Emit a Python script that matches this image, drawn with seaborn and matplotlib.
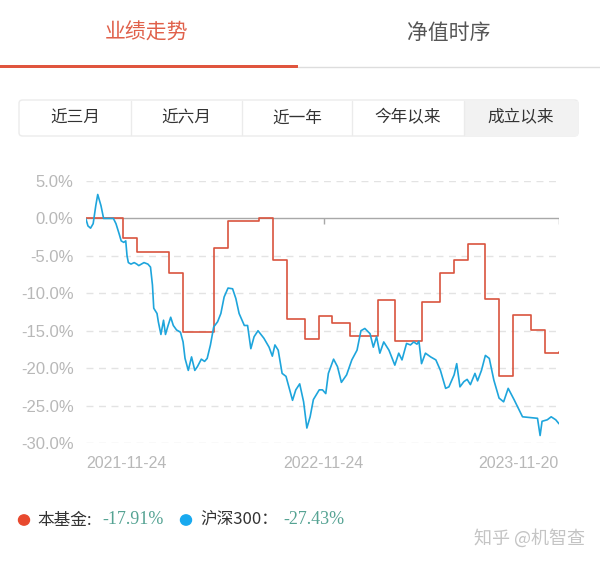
import numpy as np
import pandas as pd
import matplotlib
matplotlib.use("Agg")
import matplotlib.pyplot as plt
import seaborn as sns
from matplotlib.patches import Rectangle, FancyBboxPatch, Circle
from matplotlib.lines import Line2D

# ---------------- data ----------------
start_date = "2021-11-24"
end_date = "2023-11-20"
tick_labels = ["2021-11-24", "2022-11-24", "2023-11-20"]
y_ticks = [5, 0, -5, -10, -15, -20, -25, -30]

# fund (本基金) step changes: day offset since start, cumulative return %
fund_days = [0, 57, 78, 127, 149, 196, 218, 266, 287, 309, 336, 358, 378, 405,
             448, 474, 516, 543, 565, 586, 612, 634, 655, 683, 704, 726]
fund_vals = [0.0, -2.6, -4.5, -7.3, -15.2, -3.9, -0.4, 0.1, -5.6, -13.5, -16.1,
             -13.1, -14.0, -15.7, -10.9, -16.4, -11.2, -7.3, -5.5, -3.4, -10.7,
             -21.0, -12.9, -14.9, -18.0, -17.91]

# CSI 300 (沪深300)
idx_days = [0, 3, 7, 11, 15, 18, 23, 27, 35, 42, 46, 51, 54, 58, 61, 63, 65, 69,
            74, 78, 81, 85, 89, 95, 99, 102, 104, 109, 111, 115, 119, 122, 126,
            130, 134, 139, 145, 149, 152, 157, 162, 167, 171, 177, 182, 186, 191,
            196, 202, 207, 212, 218, 225, 230, 235, 243, 248, 253, 258, 264, 273,
            281, 286, 290, 295, 301, 307, 312, 317, 322, 328, 334, 339, 344, 349,
            358, 363, 368, 372, 380, 386, 392, 400, 408, 416, 422, 428, 436, 441,
            446, 451, 457, 465, 474, 480, 485, 492, 498, 503, 508, 511, 515, 521,
            529, 537, 544, 552, 557, 565, 569, 574, 580, 585, 590, 597, 601, 607,
            613, 619, 626, 634, 641, 648, 657, 665, 670, 693, 697, 700, 708, 714,
            721, 726]
idx_vals = [-0.1, -1.0, -1.3, -0.7, 1.7, 3.2, 1.7, 0.0, 0.0, 0.0, -0.7, -2.1,
            -3.0, -3.2, -3.0, -5.0, -5.9, -6.1, -5.9, -6.1, -6.3, -6.1, -5.9,
            -6.1, -6.5, -8.9, -12.0, -12.7, -13.8, -15.5, -13.6, -15.5, -14.3,
            -13.2, -14.3, -14.9, -15.2, -16.5, -18.7, -20.3, -18.5, -20.3, -19.8,
            -18.8, -19.1, -18.7, -16.9, -14.5, -13.8, -12.7, -10.5, -9.3, -9.4,
            -10.7, -12.7, -14.3, -14.3, -17.4, -15.8, -15.0, -16.0, -17.2, -18.4,
            -16.9, -17.6, -20.7, -21.1, -22.7, -24.3, -22.9, -22.1, -24.5, -28.0,
            -26.5, -24.2, -22.9, -22.9, -23.4, -20.7, -18.8, -19.8, -21.9, -20.9,
            -18.9, -17.6, -15.0, -14.7, -15.4, -17.2, -15.8, -18.0, -16.5, -17.6,
            -19.6, -18.0, -18.9, -16.7, -16.9, -16.5, -16.8, -16.4, -19.4, -18.0,
            -18.5, -18.9, -20.3, -22.7, -22.5, -20.9, -19.4, -22.5, -21.8, -21.5,
            -22.2, -20.7, -21.7, -20.3, -18.3, -18.7, -21.6, -24.0, -24.5, -22.7,
            -24.2, -25.6, -26.5, -26.7, -29.0, -27.1, -26.9, -26.5, -26.9, -27.43]

fund_name = "本基金"
idx_name = "沪深300"
fund_final = "-17.91%"
idx_final = "-27.43%"
tabs = ["业绩走势", "净值时序"]
periods = ["近三月", "近六月", "近一年", "今年以来", "成立以来"]
watermark = "知乎 @机智查"

# ---------------- style ----------------
sns.set_theme(style="white")
plt.rcParams["font.family"] = ["Liberation Sans", "Noto Sans CJK SC", "DejaVu Sans"]
CJK = ["Noto Sans CJK SC", "DejaVu Sans"]
SERIF = ["Liberation Serif", "DejaVu Serif"]

RED = "#d9543e"
BLUE = "#1ea5dc"
GRAY_TXT = "#b8b8b8"

W, H = 600, 562
fig = plt.figure(figsize=(W / 100, H / 100), dpi=100)
fig.patch.set_facecolor("white")

def fx(x):
    return x / W

def fy(y):
    return 1 - y / H

# header tabs
fig.text(fx(147), fy(33), tabs[0], color="#e0604a", fontsize=15, ha="center",
         va="center", family=CJK)
fig.text(fx(449), fy(33), tabs[1], color="#555555", fontsize=15, ha="center",
         va="center", family=CJK)
fig.add_artist(Rectangle((0, fy(68)), fx(298), 3.4 / H, transform=fig.transFigure,
                         color="#e0553e", lw=0))
fig.add_artist(Line2D([fx(298), 1], [fy(67), fy(67)], transform=fig.transFigure,
                      color="#dddddd", lw=1))

# period button group
bx0, bx1, by0, by1 = 19, 578, 100, 136
fig.add_artist(FancyBboxPatch((fx(bx0), fy(by1)), fx(bx1 - bx0), (by1 - by0) / H,
                              boxstyle="round,pad=0,rounding_size=0.006",
                              transform=fig.transFigure, facecolor="white",
                              edgecolor="#ebebeb", lw=1))
bounds = [19, 131, 242, 352, 464, 578]
fig.add_artist(Rectangle((fx(bounds[4]), fy(by1 - 0.5)), fx(bounds[5] - bounds[4] - 0.5),
                         (by1 - by0 - 1) / H, transform=fig.transFigure,
                         facecolor="#f2f2f2", lw=0))
for b in bounds[1:-1]:
    fig.add_artist(Line2D([fx(b), fx(b)], [fy(by0 + 1), fy(by1 - 1)],
                          transform=fig.transFigure, color="#ebebeb", lw=1))
for i, p in enumerate(periods):
    cx = (bounds[i] + bounds[i + 1]) / 2
    fig.text(fx(cx), fy(118), p, color="#333333", fontsize=12, ha="center",
             va="center", family=CJK)

# ---------------- chart ----------------
ax = fig.add_axes([fx(86), fy(443), fx(559 - 86), (443 - 181) / H])
t0 = pd.Timestamp(start_date)
t1 = pd.Timestamp(end_date)
fund_df = pd.DataFrame({"date": t0 + pd.to_timedelta(fund_days, unit="D"),
                        "value": fund_vals})
idx_df = pd.DataFrame({"date": t0 + pd.to_timedelta(idx_days, unit="D"),
                       "value": idx_vals})

for y in y_ticks:
    if y != 0:
        ax.axhline(y, color="#e3e3e3", lw=1, ls=(0, (5, 4)), zorder=0)
ax.axhline(0, color="#a8a8a8", lw=1, zorder=1)
tick_dates = pd.to_datetime(tick_labels)
ax.vlines(tick_dates[1:], -0.75, 0, color="#a8a8a8", lw=1, zorder=1)

sns.lineplot(data=fund_df, x="date", y="value", ax=ax, color=RED, lw=1.2,
             drawstyle="steps-post", zorder=3)
sns.lineplot(data=idx_df, x="date", y="value", ax=ax, color=BLUE, lw=1.2, zorder=4)

ax.set_xlim(t0, t1)
ax.set_ylim(-30, 5)
ax.set_yticks(y_ticks)
ax.set_yticklabels([f"{v:.1f}%" for v in y_ticks], color=GRAY_TXT, fontsize=12)
ax.tick_params(axis="y", length=0, pad=9)
ax.set_xticks([])
ax.set_xlabel("")
ax.set_ylabel("")
for s in ax.spines.values():
    s.set_visible(False)
ax.patch.set_alpha(0)

has = ["left", "center", "right"]
for d, lab, ha in zip(tick_dates, tick_labels, has):
    ax.annotate(lab, xy=(d, -30), xycoords="data", xytext=(0, -14.5),
                textcoords="offset points", ha=ha, va="center",
                color=GRAY_TXT, fontsize=11.5)

# ---------------- legend ----------------
LY = 520
fig.add_artist(Circle((fx(24), fy(LY)), 5.5 / W, transform=fig.transFigure,
                      color="#e8492e"))
fig.text(fx(37), fy(LY), fund_name + ":", color="#333333", fontsize=12,
         ha="left", va="center", family=CJK)
fig.text(fx(102), fy(LY), fund_final, color="#55a393", fontsize=13,
         ha="left", va="center", family=SERIF)
fig.add_artist(Circle((fx(186), fy(LY)), 5.5 / W, transform=fig.transFigure,
                      color="#18a9ef"))
fig.text(fx(200), fy(LY), idx_name + "：", color="#333333", fontsize=12,
         ha="left", va="center", family=CJK)
fig.text(fx(283), fy(LY), idx_final, color="#55a393", fontsize=13,
         ha="left", va="center", family=SERIF)

fig.text(fx(585), fy(538), watermark, color="#c4c4c4", fontsize=13,
         ha="right", va="center", family=CJK)

fig.savefig("out.png", dpi=100)
